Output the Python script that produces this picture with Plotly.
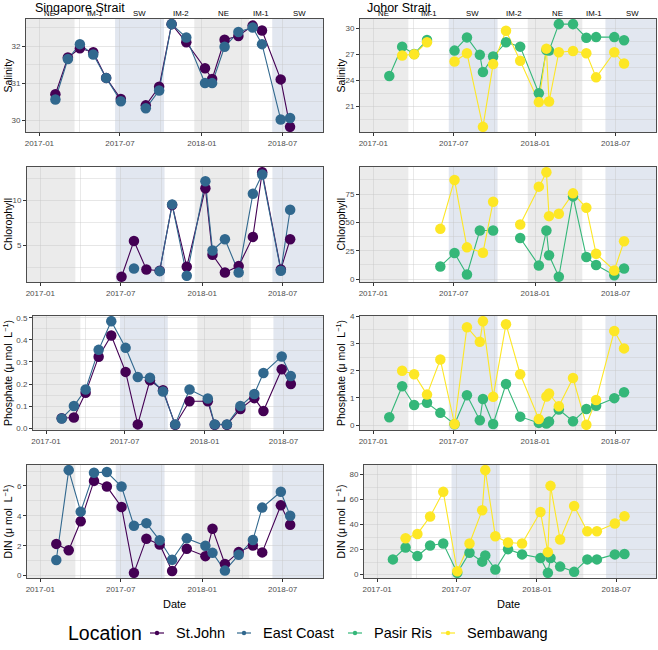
import plotly.graph_objects as go

W, H = 658, 650
NS = "ns"  # location not sampled on that date (line stays connected); None = missing value (line breaks)

# ---------------- data ----------------
SG_DATES = ["2017-02-06", "2017-03-06", "2017-04-02", "2017-05-02", "2017-05-31", "2017-07-03",
            "2017-07-31", "2017-08-28", "2017-09-27", "2017-10-25", "2017-11-27", "2018-01-08",
            "2018-01-24", "2018-02-21", "2018-03-24", "2018-04-25", "2018-05-16", "2018-06-27",
            "2018-07-18"]
JH_DATES = ["2017-02-06", "2017-03-07", "2017-04-03", "2017-05-02", "2017-06-01", "2017-07-03",
            "2017-07-31", "2017-08-29", "2017-09-05", "2017-09-28", "2017-10-27", "2017-11-28",
            "2018-01-09", "2018-01-26", "2018-02-01", "2018-02-23", "2018-03-27", "2018-04-26",
            "2018-05-18", "2018-06-28", "2018-07-20"]

# Singapore Strait
SJ_SAL = [30.70, 31.69, 31.94, 31.83, 31.14, 30.57, None, 30.40, 30.90, 32.59, 32.10, 31.40,
          31.11, 32.17, 32.27, 32.55, 32.42, 31.10, 29.82]
EC_SAL = [30.56, 31.65, 32.05, 31.77, 31.14, 30.51, None, 30.32, 30.80, 32.59, 32.23, 31.00,
          31.00, 31.98, 32.38, 32.50, 32.05, 30.02, 30.06]
SJ_CHL = [None, None, None, None, None, 1.48, 5.48, 2.30, 2.15, 9.50, 2.59, 11.37,
          3.93, 1.96, 2.67, 5.93, 13.15, 2.30, 5.67]
EC_CHL = [None, None, None, None, None, None, 2.41, None, 2.11, 9.56, 1.59, 12.15,
          4.41, 5.67, 1.96, 10.74, 12.89, 2.15, 8.96]
SJ_PO4 = [0.045, 0.048, 0.160, 0.324, 0.420, 0.255, 0.017, 0.217, 0.172, 0.015, 0.122, 0.122,
          0.015, 0.015, 0.087, 0.136, 0.078, 0.267, 0.200]
EC_PO4 = [0.044, 0.100, 0.175, 0.355, 0.485, 0.364, 0.232, 0.229, 0.166, 0.017, 0.175, 0.134,
          0.017, 0.017, 0.100, 0.155, 0.250, 0.325, 0.236]
SJ_DIN = [2.12, 1.70, 3.64, 6.34, 5.96, 4.59, 0.18, 2.47, 2.08, 0.31, 1.79, 1.30,
          3.13, 0.77, 1.57, 2.01, 1.55, 4.70, 3.40]
EC_DIN = [1.04, 7.06, 4.28, 6.89, 6.93, 5.96, 3.33, 3.51, 2.36, 1.06, 2.49, 1.99,
          1.52, 0.33, 1.39, 2.38, 4.55, 5.61, 4.00]

# Johor Strait
PR_SAL = [24.50, 27.90, 27.05, 28.66, None, 27.44, 28.97, 26.95, 24.96, 26.76, 28.40, 27.90,
          22.52, 27.50, 27.44, 30.50, 30.50, 28.93, 29.00, 29.00, 28.63]
SB_SAL = [NS, 26.87, 27.02, 28.40, None, 26.18, 27.14, NS, 18.63, 25.88, 29.73, 26.26,
          21.49, 27.67, 21.56, 27.25, 27.40, 27.14, 24.35, 27.25, 25.95]
PR_CHL = [None, None, None, None, 11.2, 23.0, 4.1, 42.8, NS, 42.8, None, 36.3,
          12.1, 42.8, 21.0, 2.1, 72.9, 19.5, 12.4, 3.5, 9.4]
SB_CHL = [None, None, None, None, 44.3, 87.4, 28.0, NS, 23.3, 68.2, None, 48.1,
          81.5, 94.2, 55.5, 57.6, 75.6, 62.9, 22.4, 7.7, 33.4]
PR_PO4 = [0.29, 1.43, 0.74, 0.82, 0.45, 0.03, 1.10, 0.18, 0.96, 0.04, 1.51, 0.31,
          0.08, 0.06, 0.13, 0.57, 0.14, 0.59, 0.71, 0.99, 1.21]
SB_PO4 = [NS, 2.00, 1.87, 1.12, 2.41, 0.04, 3.60, 3.06, 3.82, 1.04, 3.71, 1.87,
          0.22, 1.05, 1.16, 0.69, 1.73, 0.01, 0.92, 3.46, 2.82]
PR_DIN = [12.1, 21.6, 14.8, 23.2, 24.8, 1.3, 17.4, 10.3, 15.3, 4.0, 20.3, 16.1,
          13.2, 1.3, 13.2, 6.3, 2.1, 12.1, 12.1, 16.1, 16.4]
SB_DIN = [NS, 29.0, 32.5, 46.4, 66.2, 2.6, 24.8, 51.5, 83.6, 30.6, 25.6, 24.8,
          50.1, 17.9, 71.0, 28.0, 54.9, 34.6, 34.6, 40.9, 46.7]

LOCATIONS = ["St.John", "East Coast", "Pasir Ris", "Sembawang"]
COLORS = ["#440154", "#31688E", "#35B779", "#FDE725"]

Y_TITLES = ["Salinity", "Chlorophyll",
            "Phosphate (\u03bc mol\u00a0 L<sup>\u22121</sup>)",
            "DIN (\u03bc mol\u00a0 L<sup>\u22121</sup>)"]
Y_TICKS_SG = [[30, 31, 32], [5, 10], [0.0, 0.1, 0.2, 0.3, 0.4, 0.5], [0, 2, 4, 6]]
Y_TICKS_JH = [[21, 24, 27, 30], [0, 25, 50, 75], [0, 1, 2, 3, 4], [0, 20, 40, 60, 80]]
Y_TICKTEXT_SG = [["30", "31", "32"], ["5", "10"], ["0.0", "0.1", "0.2", "0.3", "0.4", "0.5"],
                 ["0", "2", "4", "6"]]

X_TICKS = ["2017-01-01", "2017-07-01", "2018-01-01", "2018-07-01"]
X_TICKTEXT = ["2017-01", "2017-07", "2018-01", "2018-07"]
X_MINOR = ["2017-04-01", "2017-10-01", "2018-04-01"]
X_RANGE = ["2016-12-02", "2018-09-30"]

SEASONS = ["NE", "IM-1", "SW", "IM-2", "NE", "IM-1", "SW"]
SEASON_LABEL_DATES = ["2017-01-24", "2017-05-06", "2017-08-13", "2017-11-15",
                      "2018-02-19", "2018-05-14", "2018-08-08"]
BANDS = [("2016-12-02", "2017-03-21", "ne"), ("2017-06-20", "2017-10-08", "sw"),
         ("2017-12-15", "2018-04-17", "ne"), ("2018-06-08", "2018-09-30", "sw")]
BAND_FILL = {"ne": "#EBEBEB", "sw": "#E2E7F0"}

# ---------------- layout geometry (pixels: x0, y0, x1, y1) ----------------
BOXES = [(26, 19, 323, 132), (27, 167, 323, 282), (33, 316, 323, 430), (27, 465, 323, 578),
         (360, 19, 656, 132), (360, 167, 656, 282), (360, 316, 656, 430), (364, 465, 656, 578)]

FONT = "Liberation Sans, Arial, Helvetica, sans-serif"

SG_SERIES = [[(0, SJ_SAL), (1, EC_SAL)], [(0, SJ_CHL), (1, EC_CHL)],
             [(0, SJ_PO4), (1, EC_PO4)], [(0, SJ_DIN), (1, EC_DIN)]]
JH_SERIES = [[(2, PR_SAL), (3, SB_SAL)], [(2, PR_CHL), (3, SB_CHL)],
             [(2, PR_PO4), (3, SB_PO4)], [(2, PR_DIN), (3, SB_DIN)]]


def xy(dates, vals):
    xs, ys = [], []
    for d, v in zip(dates, vals):
        if isinstance(v, str):
            continue
        xs.append(d)
        ys.append(v)
    return xs, ys


fig = go.Figure()
layout = dict(template="none", width=W, height=H, margin=dict(l=0, r=0, t=0, b=0, pad=0),
              autosize=False,
              paper_bgcolor="white", plot_bgcolor="white", showlegend=False,
              font=dict(family=FONT, color="#1a1a1a"))
shapes, annotations = [], []

panels = []
for r in range(4):
    panels.append((SG_DATES, SG_SERIES[r], Y_TICKS_SG[r], Y_TICKTEXT_SG[r], Y_TITLES[r], 0))
for r in range(4):
    panels.append((JH_DATES, JH_SERIES[r], Y_TICKS_JH[r], [str(t) for t in Y_TICKS_JH[r]], Y_TITLES[r], 1))

for k, (dates, series, yt, ytt, ytitle, col) in enumerate(panels):
    n = k + 1
    xa = "x" if n == 1 else f"x{n}"
    ya = "y" if n == 1 else f"y{n}"
    x0, y0, x1, y1 = BOXES[k]

    # y-range like ggplot: data range expanded by 5%
    allv = [v for _, vals in series for v in vals if isinstance(v, (int, float))]
    lo, hi = min(allv), max(allv)
    pad = (hi - lo) * 0.05
    yr = [lo - pad, hi + pad]
    step = yt[1] - yt[0]
    yminor = [t + step / 2 for t in [yt[0] - step] + yt]
    yminor = [m for m in yminor if yr[0] <= m <= yr[1]]

    # lines first (under all points), then points
    for li, vals in series:
        xs, ys = xy(dates, vals)
        fig.add_trace(go.Scatter(x=xs, y=ys, mode="lines", xaxis=xa, yaxis=ya,
                                 line=dict(color=COLORS[li], width=1.1),
                                 connectgaps=False, hoverinfo="skip"))
    for li, vals in series:
        xs, ys = xy(dates, vals)
        fig.add_trace(go.Scatter(x=xs, y=ys, mode="markers", xaxis=xa, yaxis=ya,
                                 marker=dict(color=COLORS[li], size=10.5, line=dict(width=0)),
                                 name=LOCATIONS[li]))

    common = dict(showline=True, mirror=True, linecolor="#4d4d4d", linewidth=1,
                  ticks="outside", ticklen=3, tickwidth=1, tickcolor="#333333",
                  tickfont=dict(size=8, color="#4D4D4D"), zeroline=False, fixedrange=True,
                  automargin=False, showgrid=True, gridcolor="rgba(200,200,200,0.45)", gridwidth=1.1)
    layout["xaxis" if n == 1 else f"xaxis{n}"] = dict(
        domain=[x0 / W, x1 / W], anchor=ya, type="date", range=X_RANGE,
        tickmode="array", tickvals=X_TICKS, ticktext=X_TICKTEXT,
        minor=dict(tickmode="array", tickvals=X_MINOR, showgrid=True,
                   gridcolor="rgba(200,200,200,0.4)", gridwidth=0.6, ticks=""),
        **common)
    layout["yaxis" if n == 1 else f"yaxis{n}"] = dict(
        domain=[1 - y1 / H, 1 - y0 / H], anchor=xa, range=yr,
        tickmode="array", tickvals=yt, ticktext=ytt,
        minor=dict(tickmode="array", tickvals=yminor, showgrid=True,
                   gridcolor="rgba(200,200,200,0.4)", gridwidth=0.6, ticks=""),
        **common)

    for b0, b1, kind in BANDS:
        shapes.append(dict(type="rect", xref=xa, yref="paper", x0=b0, x1=b1,
                           y0=1 - y1 / H, y1=1 - y0 / H,
                           fillcolor=BAND_FILL[kind], line=dict(width=0), layer="below"))

    # y-axis title
    annotations.append(dict(text=ytitle, xref="paper", yref="paper",
                            x=(7 if col == 0 else 340) / W, y=1 - (y0 + y1) / 2 / H,
                            xanchor="center", yanchor="middle", textangle=-90,
                            showarrow=False, font=dict(size=10.5, color="black")))

    # season labels above top panels
    if n in (1, 5):
        for s, d in zip(SEASONS, SEASON_LABEL_DATES):
            annotations.append(dict(text=s, xref=xa, yref="paper", x=d, y=1 - 19 / H,
                                    xanchor="center", yanchor="bottom", showarrow=False,
                                    borderpad=0, font=dict(size=7.8, color="black")))

# strait titles
annotations.append(dict(text="Singapore Strait", xref="paper", yref="paper", x=34 / W, y=1.0,
                        xanchor="left", yanchor="top", showarrow=False, borderpad=0,
                        font=dict(size=12.5, color="black")))
annotations.append(dict(text="Johor Strait", xref="paper", yref="paper", x=366 / W, y=1.0,
                        xanchor="left", yanchor="top", showarrow=False, borderpad=0,
                        font=dict(size=12.5, color="black")))

# x titles
for cx in (174.5, 508):
    annotations.append(dict(text="Date", xref="paper", yref="paper", x=cx / W, y=1 - 604 / H,
                            xanchor="center", yanchor="middle", showarrow=False,
                            font=dict(size=11, color="black")))

# legend (drawn manually to match ggplot bottom legend)
LEG_Y = 633
annotations.append(dict(text="Location", xref="paper", yref="paper", x=66 / W, y=1 - LEG_Y / H,
                        xanchor="left", yanchor="middle", showarrow=False,
                        font=dict(size=19.5, color="black")))
LEG_GLYPH_X = [157, 244, 355, 448]
for i, gx in enumerate(LEG_GLYPH_X):
    shapes.append(dict(type="line", xref="paper", yref="paper", x0=(gx - 7) / W, x1=(gx + 7) / W,
                       y0=1 - LEG_Y / H, y1=1 - LEG_Y / H, line=dict(color=COLORS[i], width=1.2)))
    shapes.append(dict(type="circle", xref="paper", yref="paper", x0=(gx - 2.2) / W, x1=(gx + 2.2) / W,
                       y0=1 - (LEG_Y + 2.2) / H, y1=1 - (LEG_Y - 2.2) / H,
                       fillcolor=COLORS[i], line=dict(width=0)))
    annotations.append(dict(text=LOCATIONS[i], xref="paper", yref="paper", x=(gx + 17) / W,
                            y=1 - LEG_Y / H, xanchor="left", yanchor="middle", showarrow=False,
                            font=dict(size=14.5, color="black")))

layout["shapes"] = shapes
layout["annotations"] = annotations
fig.update_layout(**layout)
fig.write_html("out.html", config={"displayModeBar": False},
               post_script="document.body.style.margin='0';document.body.style.padding='0';"
                           "document.documentElement.style.overflow='hidden';")
